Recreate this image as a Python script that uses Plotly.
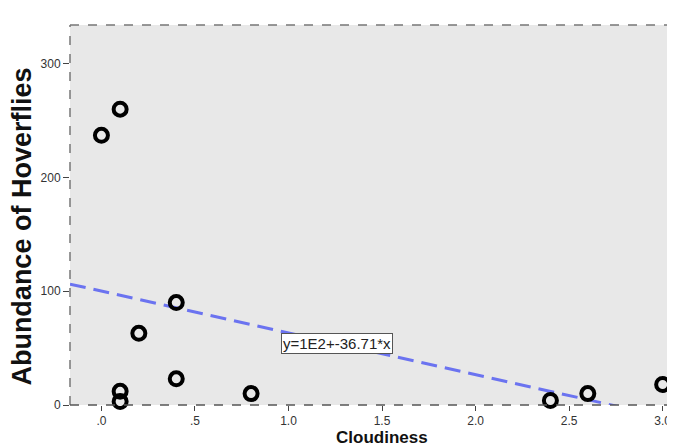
import numpy as np
import plotly.graph_objects as go

cloudiness = [0.0, 0.1, 0.1, 0.1, 0.2, 0.4, 0.4, 0.8, 2.4, 2.6, 3.0]
hoverflies = [237, 260, 12, 3, 63, 90, 23, 10, 4, 10, 18]
x_tick_vals = [0.0, 0.5, 1.0, 1.5, 2.0, 2.5, 3.0]
x_tick_text = [".0", ".5", "1.0", "1.5", "2.0", "2.5", "3.0"]
y_tick_vals = [0, 100, 200, 300]
y_tick_text = ["0", "100", "200", "300"]
fit_intercept = 100.1
fit_slope = -36.71
fit_label = "y=1E2+-36.71*x"

x_range = [-0.168, 3.066]
y_range = [0, 334]

fig = go.Figure()
fx = np.array(x_range)
fig.add_trace(go.Scatter(x=fx, y=fit_intercept + fit_slope * fx, mode="lines",
                         line=dict(color="#6b73f0", width=3, dash="16px,8px"),
                         hoverinfo="skip", showlegend=False))
fig.add_trace(go.Scatter(x=cloudiness, y=hoverflies, mode="markers",
                         marker=dict(symbol="circle-open", size=13, color="black",
                                     line=dict(width=4, color="black")),
                         showlegend=False, cliponaxis=False))

fig.add_annotation(x=1.26, y=54, xref="x", yref="y", text=fit_label, showarrow=False,
                   font=dict(family="Arial", size=15, color="#222"),
                   bgcolor="white", bordercolor="#555", borderwidth=1, borderpad=1)

fig.add_annotation(x=0.515, y=-0.086, xref="paper", yref="paper", text="<b>Cloudiness</b>",
                   showarrow=False, font=dict(family="Arial", size=17, color="#111"),
                   yanchor="middle")
fig.add_annotation(x=-0.079, y=0.47, xref="paper", yref="paper",
                   text="<b>Abundance of Hoverflies</b>", textangle=-90,
                   showarrow=False, font=dict(family="Arial", size=27, color="#111"),
                   xanchor="center", yanchor="middle")

border = dict(color="#777", width=1.5, dash="dash")
fig.add_shape(type="line", xref="paper", yref="paper", x0=0, x1=1, y0=1, y1=1, line=border)
fig.add_shape(type="line", xref="paper", yref="paper", x0=0, x1=0, y0=0, y1=1, line=border)
fig.add_shape(type="line", xref="paper", yref="paper", x0=0, x1=1, y0=0, y1=0,
              line=dict(color="#555", width=1.5, dash="dash"))

fig.update_xaxes(range=x_range, tickvals=x_tick_vals, ticktext=x_tick_text,
                 ticks="outside", ticklen=5, tickcolor="#444", tickwidth=1.2,
                 showgrid=False, zeroline=False, showline=False,
                 ticklabeloverflow="allow",
                 tickfont=dict(family="Arial", size=12, color="#333"))
fig.update_yaxes(range=y_range, tickvals=y_tick_vals, ticktext=y_tick_text,
                 ticks="outside", ticklen=6, tickcolor="#444", tickwidth=1.2,
                 showgrid=False, zeroline=False, showline=False,
                 tickfont=dict(family="Arial", size=12, color="#333"))

# page body has an 8px default margin, so the figure is sized/offset to compensate
fig.update_layout(width=667, height=440, margin=dict(l=62, r=0, t=17, b=43),
                  plot_bgcolor="#e8e8e8", paper_bgcolor="white", showlegend=False)

fig.write_html("out.html")
